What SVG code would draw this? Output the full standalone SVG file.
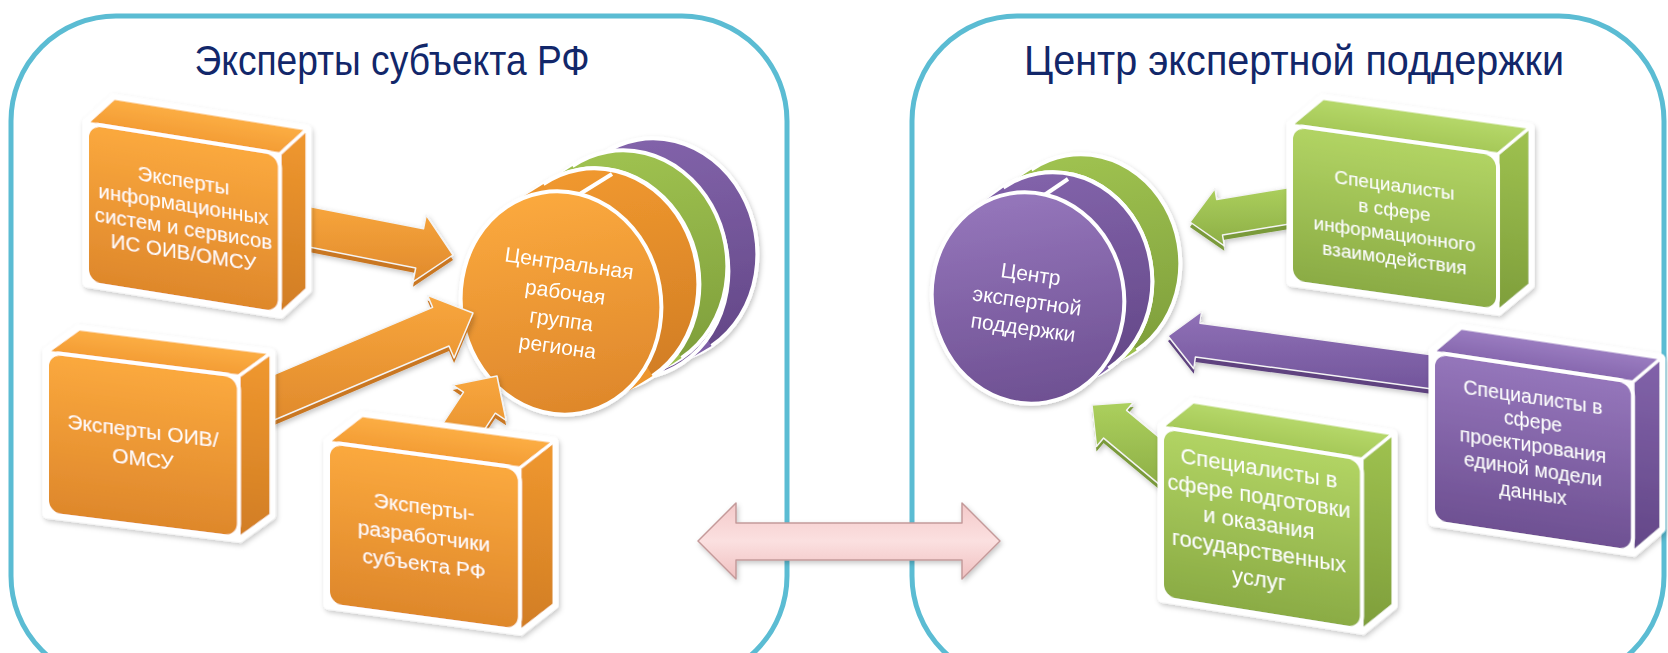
<svg xmlns="http://www.w3.org/2000/svg" width="1668" height="653" viewBox="0 0 1668 653">
<defs>
<style>
.panel{fill:#fff;stroke:#5bbcd3;stroke-width:5}
.title{font-family:"Liberation Sans",Arial,sans-serif;fill:#12276a;text-anchor:middle}
.bt{font-family:"Liberation Sans",Arial,sans-serif;fill:#fff;text-anchor:middle}
.sil{fill:#fff;stroke:#fff;stroke-width:9;stroke-linejoin:round}
.face{stroke:#fff;stroke-width:3;stroke-linejoin:round}
.front{stroke:#fff;stroke-width:4}
.cyl{stroke:#fff;stroke-width:4}
.arr{stroke:#f4f4f4;stroke-width:1.5;stroke-linejoin:round}
</style>
<filter id="sh" x="-20%" y="-20%" width="140%" height="140%">
<feDropShadow dx="1.5" dy="2.5" stdDeviation="2.5" flood-color="#000" flood-opacity="0.22"/>
</filter>
<linearGradient id="orF" x1="0" y1="0" x2="0" y2="1"><stop offset="0" stop-color="#fba93e"/><stop offset="1" stop-color="#de872b"/></linearGradient>
<linearGradient id="orTop" x1="0" y1="0" x2="0" y2="1"><stop offset="0" stop-color="#fcae44"/><stop offset="1" stop-color="#f39c34"/></linearGradient>
<linearGradient id="orSide" x1="0" y1="0" x2="0" y2="1"><stop offset="0" stop-color="#f0982f"/><stop offset="1" stop-color="#d17d24"/></linearGradient>
<linearGradient id="grF" x1="0" y1="0" x2="0" y2="1"><stop offset="0" stop-color="#b2d464"/><stop offset="1" stop-color="#8aab44"/></linearGradient>
<linearGradient id="grTop" x1="0" y1="0" x2="0" y2="1"><stop offset="0" stop-color="#b6d86a"/><stop offset="1" stop-color="#a5c857"/></linearGradient>
<linearGradient id="grSide" x1="0" y1="0" x2="0" y2="1"><stop offset="0" stop-color="#9fc250"/><stop offset="1" stop-color="#7e9e3b"/></linearGradient>
<linearGradient id="puF" x1="0" y1="0" x2="0" y2="1"><stop offset="0" stop-color="#9576bb"/><stop offset="1" stop-color="#6e5092"/></linearGradient>
<linearGradient id="puTop" x1="0" y1="0" x2="0" y2="1"><stop offset="0" stop-color="#9b7dc1"/><stop offset="1" stop-color="#8667ae"/></linearGradient>
<linearGradient id="puSide" x1="0" y1="0" x2="0" y2="1"><stop offset="0" stop-color="#8263aa"/><stop offset="1" stop-color="#634787"/></linearGradient>
<linearGradient id="orA" x1="0" y1="0" x2="0" y2="1"><stop offset="0" stop-color="#f8a63d"/><stop offset="1" stop-color="#e08a2c"/></linearGradient>
<linearGradient id="grA" x1="0" y1="0" x2="0" y2="1"><stop offset="0" stop-color="#acd05d"/><stop offset="1" stop-color="#8dae46"/></linearGradient>
<linearGradient id="puA" x1="0" y1="0" x2="0" y2="1"><stop offset="0" stop-color="#9071b7"/><stop offset="1" stop-color="#72559b"/></linearGradient>
<linearGradient id="pink" x1="0" y1="0" x2="0" y2="1"><stop offset="0" stop-color="#f4c9c9"/><stop offset="0.5" stop-color="#fbe0e0"/><stop offset="1" stop-color="#f0c0c0"/></linearGradient>
</defs>

<g id="panel-left">
<rect class="panel" x="11" y="16" width="776" height="665" rx="105"/>
<text class="title" x="392" y="75" font-size="42" textLength="395" lengthAdjust="spacingAndGlyphs">Эксперты субъекта РФ</text>
</g>
<g id="panel-right">
<rect class="panel" x="912" y="16" width="752" height="665" rx="105"/>
<text class="title" x="1294" y="75" font-size="42" textLength="540" lengthAdjust="spacingAndGlyphs">Центр экспертной поддержки</text>
</g>

<g id="cyl-left" filter="url(#sh)">
<ellipse class="cyl" cx="657" cy="250" rx="100" ry="112" transform="rotate(-10 657 250)" fill="url(#puSide)"/>
<polygon points="682.5,363 711.5,346 602.5,154 573.5,171" fill="#7d5ea6"/>
<ellipse class="cyl" cx="628" cy="267" rx="100" ry="112" transform="rotate(-10 628 267)" fill="url(#puF)"/>
<ellipse class="cyl" cx="627" cy="262" rx="100" ry="112" transform="rotate(-10 627 262)" fill="url(#grSide)"/>
<polygon points="653.5,376 681.5,358 572.5,166 544.5,184" fill="#9cbf4e"/>
<ellipse class="cyl" cx="599" cy="280" rx="100" ry="112" transform="rotate(-10 599 280)" fill="url(#grF)"/>
<ellipse class="cyl" cx="598" cy="280" rx="100" ry="112" transform="rotate(-10 598 280)" fill="url(#orSide)"/>
<polygon points="615.5,399 652.5,376 543.5,184 506.5,207" fill="#ec952f"/>
<line x1="575" y1="197" x2="612" y2="174" stroke="#fff" stroke-width="4"/>
<ellipse class="cyl" cx="561" cy="303" rx="100" ry="112" transform="rotate(-10 561 303)" fill="url(#orF)"/>
<g transform="rotate(8 563 308)">
<text class="bt" font-size="21"><tspan x="563" y="270">Центральная</tspan><tspan x="563" y="299">рабочая</tspan><tspan x="563" y="327">группа</tspan><tspan x="563" y="354">региона</tspan></text>
</g>
</g>

<g id="cyl-right" filter="url(#sh)">
<ellipse class="cyl" cx="1084" cy="260" rx="96" ry="106" transform="rotate(-10 1084 260)" fill="url(#grSide)"/>
<polygon points="1108.6,368.5 1136.6,350.5 1031.4,169.5 1003.4,187.5" fill="#9cbf4e"/>
<ellipse class="cyl" cx="1056" cy="278" rx="96" ry="106" transform="rotate(-10 1056 278)" fill="url(#grF)"/>
<ellipse class="cyl" cx="1056" cy="278" rx="96" ry="106" transform="rotate(-10 1056 278)" fill="url(#puSide)"/>
<polygon points="1080.6,388.5 1108.6,368.5 1003.4,187.5 975.4,207.5" fill="#7e5fa7"/>
<line x1="1040" y1="198" x2="1068" y2="179" stroke="#fff" stroke-width="4"/>
<ellipse class="cyl" cx="1028" cy="298" rx="96" ry="106" transform="rotate(-10 1028 298)" fill="url(#puF)"/>
<g transform="rotate(8 1027 301)">
<text class="bt" font-size="21"><tspan x="1027" y="281">Центр</tspan><tspan x="1027" y="308">экспертной</tspan><tspan x="1027" y="335">поддержки</tspan></text>
</g>
</g>

<g id="connectors" filter="url(#sh)">
<g id="arrow-a">
<polygon points="293.9,208.4 423.5,233.8 426.2,220 453,260 413,286.8 415.7,273 286.1,247.6" fill="#c97724"/>
<polygon class="arr" points="293.9,203.4 423.5,228.8 426.2,215 453,255 413,281.8 415.7,268 286.1,242.6" fill="url(#orA)"/>
</g>
<g id="arrow-b">
<polygon points="253.2,388.4 432.6,312.4 427.5,300.4 473,318 454.1,363 449,351 269.6,427" fill="#c97724"/>
<polygon class="arr" points="253.2,383.4 432.6,307.4 427.5,295.4 473,313 454.1,358 449,346 269.6,422" fill="url(#orA)"/>
</g>
<g id="arrow-c">
<polygon points="422.2,459.8 463.5,397.2 452.7,390.1 497,381 506.1,425.3 495.3,418.2 454,480.8" fill="#c97724"/>
<polygon class="arr" points="422.2,454.8 463.5,392.2 452.7,385.1 497,376 506.1,420.3 495.3,413.2 454,475.8" fill="url(#orA)"/>
</g>
<g id="arrow-d">
<polygon points="1302.1,190.4 1216.7,204.4 1214.9,193.6 1190,227 1224.3,250.8 1222.5,240 1307.9,226" fill="#7a9a3a"/>
<polygon class="arr" points="1302.1,185.4 1216.7,199.4 1214.9,188.6 1190,222 1224.3,245.8 1222.5,235 1307.9,221" fill="url(#grA)"/>
</g>
<g id="arrow-e">
<polygon points="1442.3,361.2 1200,328.2 1201.6,316.4 1168,341 1193.8,373.8 1195.4,362 1437.7,394.8" fill="#5e437f"/>
<polygon class="arr" points="1442.3,356.2 1200,323.2 1201.6,311.4 1168,336 1193.8,368.8 1195.4,357 1437.7,389.8" fill="url(#puA)"/>
</g>
<g id="arrow-f">
<polygon points="1188.2,466.5 1126.6,415.3 1133.7,406.9 1092,410 1096.5,451.5 1103.6,443.1 1165.2,494.3" fill="#7a9a3a"/>
<polygon class="arr" points="1188.2,461.5 1126.6,410.3 1133.7,401.9 1092,405 1096.5,446.5 1103.6,438.1 1165.2,489.3" fill="url(#grA)"/>
</g>
<g id="arrow-both">
<path d="M698,541 L736,503 L736,523 L962,523 L962,503 L1000,541 L962,579 L962,560 L736,560 L736,579 Z" fill="url(#pink)" stroke="#c49a9a" stroke-width="1.5" stroke-linejoin="round"/>
</g>
</g>

<g id="box1" transform="matrix(1,0.16,0,1,87,123)" filter="url(#sh)">
<path class="sil" d="M0,160 L0,0 L27,-29 L220,-29 L220,131 L193,160 Z"/>
<path class="face" d="M0,0 L193,0 L220,-29 L27,-29 Z" fill="url(#orTop)"/>
<path class="face" d="M193,0 L220,-29 L220,131 L193,160 Z" fill="url(#orSide)"/>
<rect class="front" width="193" height="160" rx="14" fill="url(#orF)"/>
<text class="bt" font-size="20.5"><tspan x="96.5" y="49">Эксперты</tspan><tspan x="96.5" y="73">информационных</tspan><tspan x="96.5" y="97">систем и сервисов</tspan><tspan x="96.5" y="121">ИС ОИВ/ОМСУ</tspan></text>
</g>

<g id="box2" transform="matrix(1,0.125,0,1,47,352)" filter="url(#sh)">
<path class="sil" d="M0,162 L0,0 L32,-27 L224,-27 L224,135 L192,162 Z"/>
<path class="face" d="M0,0 L192,0 L224,-27 L32,-27 Z" fill="url(#orTop)"/>
<path class="face" d="M192,0 L224,-27 L224,135 L192,162 Z" fill="url(#orSide)"/>
<rect class="front" width="192" height="162" rx="14" fill="url(#orF)"/>
<text class="bt" font-size="21"><tspan x="96" y="74">Эксперты ОИВ/</tspan><tspan x="96" y="102">ОМСУ</tspan></text>
</g>

<g id="box3" transform="matrix(1,0.135,0,1,328,442)" filter="url(#sh)">
<path class="sil" d="M0,163 L0,0 L34,-31 L226,-31 L226,132 L192,163 Z"/>
<path class="face" d="M0,0 L192,0 L226,-31 L34,-31 Z" fill="url(#orTop)"/>
<path class="face" d="M192,0 L226,-31 L226,132 L192,163 Z" fill="url(#orSide)"/>
<rect class="front" width="192" height="163" rx="14" fill="url(#orF)"/>
<text class="bt" font-size="21"><tspan x="96" y="59.5">Эксперты-</tspan><tspan x="96" y="88.5">разработчики</tspan><tspan x="96" y="116.5">субъекта РФ</tspan></text>
</g>

<g id="box4" transform="matrix(1,0.14,0,1,1291,125)" filter="url(#sh)">
<path class="sil" d="M0,157 L0,0 L32,-31 L239,-31 L239,126 L207,157 Z"/>
<path class="face" d="M0,0 L207,0 L239,-31 L32,-31 Z" fill="url(#grTop)"/>
<path class="face" d="M207,0 L239,-31 L239,126 L207,157 Z" fill="url(#grSide)"/>
<rect class="front" width="207" height="157" rx="14" fill="url(#grF)"/>
<text class="bt" font-size="19"><tspan x="103.5" y="52">Специалисты</tspan><tspan x="103.5" y="77">в сфере</tspan><tspan x="103.5" y="101">информационного</tspan><tspan x="103.5" y="125">взаимодействия</tspan></text>
</g>

<g id="box5" transform="matrix(1,0.15,0,1,1433,352)" filter="url(#sh)">
<path class="sil" d="M0,170 L0,0 L28,-28 L228,-28 L228,142 L200,170 Z"/>
<path class="face" d="M0,0 L200,0 L228,-28 L28,-28 Z" fill="url(#puTop)"/>
<path class="face" d="M200,0 L228,-28 L228,142 L200,170 Z" fill="url(#puSide)"/>
<rect class="front" width="200" height="170" rx="14" fill="url(#puF)"/>
<text class="bt" font-size="19.5"><tspan x="100" y="37">Специалисты в</tspan><tspan x="100" y="61">сфере</tspan><tspan x="100" y="85">проектирования</tspan><tspan x="100" y="109">единой модели</tspan><tspan x="100" y="133">данных</tspan></text>
</g>

<g id="box6" transform="matrix(1,0.16,0,1,1162,427)" filter="url(#sh)">
<path class="sil" d="M0,171 L0,0 L31,-30 L231,-30 L231,141 L200,171 Z"/>
<path class="face" d="M0,0 L200,0 L231,-30 L31,-30 Z" fill="url(#grTop)"/>
<path class="face" d="M200,0 L231,-30 L231,141 L200,171 Z" fill="url(#grSide)"/>
<rect class="front" width="200" height="171" rx="14" fill="url(#grF)"/>
<text class="bt" font-size="22"><tspan x="97" y="33">Специалисты в</tspan><tspan x="97" y="61">сфере подготовки</tspan><tspan x="97" y="88">и оказания</tspan><tspan x="97" y="116">государственных</tspan><tspan x="97" y="144">услуг</tspan></text>
</g>
</svg>
